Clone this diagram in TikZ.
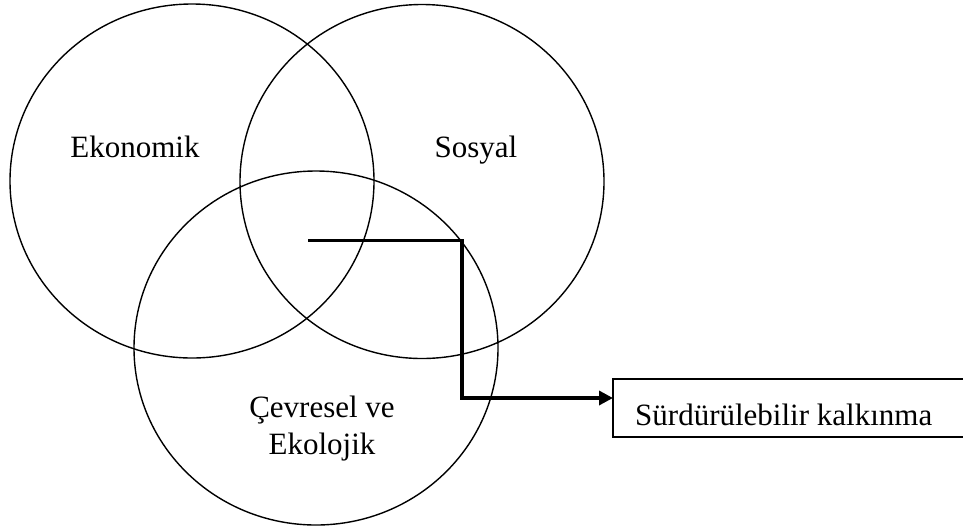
\documentclass[tikz,border=0pt]{standalone}
\usepackage{fontspec}
\setmainfont{Liberation Serif}
\usetikzlibrary{shapes.geometric,arrows.meta}
\begin{document}
\begin{tikzpicture}[x=1pt,y=-1pt,
  venn/.style={draw=black,line width=1.4pt,ellipse,minimum width=364pt,minimum height=354pt,inner sep=0pt},
  lbl/.style={font=\fontsize{31}{37}\selectfont,inner sep=0pt,align=center},
  conn/.style={line width=3.3pt},
  resultbox/.style={draw=black,line width=1.4pt}]
\useasboundingbox (0,0) rectangle (963,528);
\node[venn] (eko) at (192,181) {};
\node[venn] (sos) at (422,181.5) {};
\node[venn] (cev) at (316,348) {};
\node[lbl,anchor=base] (ekotxt) at (135,157) {Ekonomik};
\node[lbl,anchor=base] (sostxt) at (476,157) {Sosyal};
\node[lbl,anchor=base] (cevtxt) at (322,454) {Çevresel ve\\Ekolojik};
\draw[resultbox] (613,379) rectangle (966,437);
\node[lbl,anchor=base west] (sk) at (635,425) {Sürdürülebilir kalkınma};
\coordinate (start) at (308,240.5);
\coordinate (bend) at (462,240.5);
\coordinate (tip) at (613,398);
\draw[conn,-{Triangle[length=14pt,width=14pt]}] (start) -- (bend) |- (tip);
\end{tikzpicture}
\end{document}
